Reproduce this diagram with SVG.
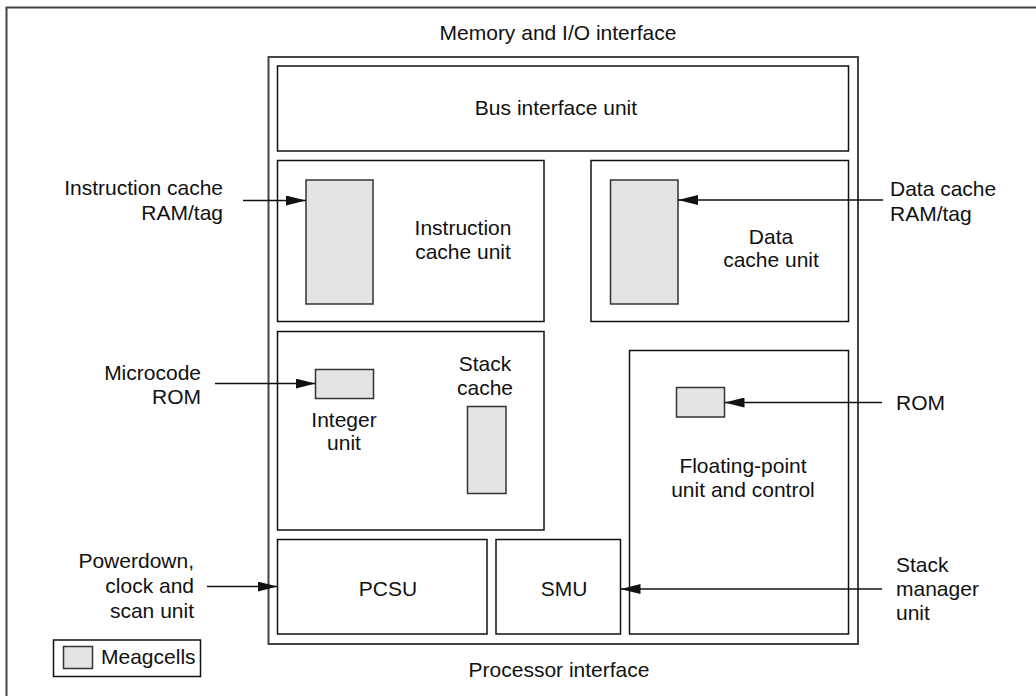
<svg xmlns="http://www.w3.org/2000/svg" width="1036" height="696" viewBox="0 0 1036 696">
<style>
  .frame { fill: none; stroke: #444; stroke-width: 2; }
  .box { fill: none; stroke: #111; stroke-width: 1.5; }
  .cell { fill: #e4e4e4; stroke: #333; stroke-width: 1.5; }
  .conn { stroke: #111; stroke-width: 1.5; fill: none; }
  text { font-family: "Liberation Sans", Arial, sans-serif; font-size: 21px; fill: #111; }
  .c { text-anchor: middle; }
  .r { text-anchor: end; }
</style>
<defs>
  <marker id="ah" viewBox="0 0 20 10" refX="20" refY="5" markerWidth="20" markerHeight="10" markerUnits="userSpaceOnUse" orient="auto">
    <path d="M0,0 L20,5 L0,10 Z" fill="#111"/>
  </marker>
</defs>
<rect x="0" y="0" width="1036" height="696" fill="#fff"/>
<rect id="outer" class="frame" x="6.5" y="7.5" width="1040" height="700"/>
<g id="chip">
  <rect class="frame" x="268.5" y="57" width="589.5" height="587"/>
  <text class="c" x="558" y="40">Memory and I/O interface</text>
  <text class="c" x="559" y="677">Processor interface</text>
</g>
<g id="biu">
  <rect class="box" x="277.5" y="66" width="571" height="85"/>
  <text class="c" x="556" y="115">Bus interface unit</text>
</g>
<g id="icu">
  <rect class="box" x="277.5" y="160.5" width="266.5" height="161"/>
  <rect class="cell" x="306" y="180" width="67" height="124"/>
  <text class="c" x="463" y="235">Instruction</text>
  <text class="c" x="463" y="259">cache unit</text>
</g>
<g id="dcu">
  <rect class="box" x="591" y="160.5" width="257.5" height="161"/>
  <rect class="cell" x="610.5" y="180" width="67.5" height="124"/>
  <text class="c" x="771" y="244">Data</text>
  <text class="c" x="771" y="267">cache unit</text>
</g>
<g id="iu">
  <rect class="box" x="277.5" y="331.5" width="266.5" height="198.5"/>
  <rect class="cell" x="315.5" y="369.5" width="58" height="29"/>
  <rect class="cell" x="467.5" y="406.5" width="38.5" height="87"/>
  <text class="c" x="344" y="427">Integer</text>
  <text class="c" x="344" y="450">unit</text>
  <text class="c" x="485" y="371">Stack</text>
  <text class="c" x="485" y="395">cache</text>
</g>
<g id="fpu">
  <rect class="box" x="629.5" y="350.5" width="219" height="283.5"/>
  <rect class="cell" x="676.5" y="387.5" width="48" height="29.5"/>
  <text class="c" x="743" y="473">Floating-point</text>
  <text class="c" x="743" y="497">unit and control</text>
</g>
<g id="pcsu">
  <rect class="box" x="277.5" y="539.5" width="209.5" height="94.5"/>
  <text class="c" x="388" y="596">PCSU</text>
</g>
<g id="smu">
  <rect class="box" x="496" y="539.5" width="124.5" height="94.5"/>
  <text class="c" x="564" y="596">SMU</text>
</g>
<g id="labels">
  <text class="r" x="223" y="195">Instruction cache</text>
  <text class="r" x="223" y="220">RAM/tag</text>
  <text x="890" y="196">Data cache</text>
  <text x="890" y="221">RAM/tag</text>
  <text class="r" x="201" y="380">Microcode</text>
  <text class="r" x="201" y="404">ROM</text>
  <text x="896" y="410">ROM</text>
  <text class="r" x="194" y="568">Powerdown,</text>
  <text class="r" x="194" y="593">clock and</text>
  <text class="r" x="194" y="618">scan unit</text>
  <text x="896" y="572">Stack</text>
  <text x="896" y="596">manager</text>
  <text x="896" y="620">unit</text>
</g>
<g id="legend">
  <rect class="box" x="53.5" y="640" width="147" height="36.5"/>
  <rect class="cell" x="63.5" y="646.5" width="29" height="22"/>
  <text x="101" y="664">Meagcells</text>
</g>
<g id="connectors">
  <line class="conn" x1="243" y1="200.5" x2="306" y2="200.5" marker-end="url(#ah)"/>
  <line class="conn" x1="883" y1="200" x2="678" y2="200" marker-end="url(#ah)"/>
  <line class="conn" x1="215" y1="383.5" x2="315.5" y2="383.5" marker-end="url(#ah)"/>
  <line class="conn" x1="882" y1="402.5" x2="724.5" y2="402.5" marker-end="url(#ah)"/>
  <line class="conn" x1="207" y1="586.5" x2="277.5" y2="586.5" marker-end="url(#ah)"/>
  <line class="conn" x1="882" y1="589" x2="620.5" y2="589" marker-end="url(#ah)"/>
</g>
</svg>
